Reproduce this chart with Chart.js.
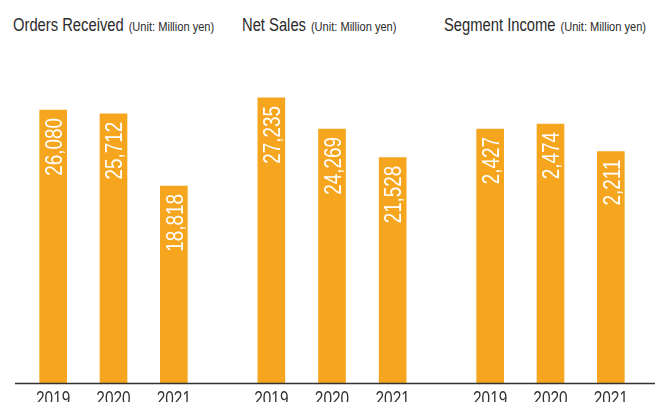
<!DOCTYPE html>
<html>
<head>
<meta charset="utf-8">
<script src="https://cdn.jsdelivr.net/npm/chart.js@4/dist/chart.umd.min.js"></script>
<style>
  body { margin: 0; background: #fff; }
  #wrap { position: relative; width: 655px; height: 402px; overflow: hidden; font-family: "Liberation Sans", Arial, sans-serif; }
  .box { position: absolute; top: 60px; height: 342px; }
  .title { position: absolute; top: 16px; line-height: 18px; white-space: nowrap; color: #2b2b2b; font-size: 18px; transform: scaleX(0.82); transform-origin: left top; }
  .title small { font-size: 13.5px; margin-left: 1px; }
</style>
</head>
<body>
<div id="wrap">
  <div class="title" style="left:13px">Orders Received <small>(Unit: Million yen)</small></div>
  <div class="title" style="left:242px">Net Sales <small>(Unit: Million yen)</small></div>
  <div class="title" style="left:444px">Segment Income <small>(Unit: Million yen)</small></div>
  <div class="box" style="left:0;width:218px"><canvas id="c1"></canvas></div>
  <div class="box" style="left:218px;width:219px"><canvas id="c2"></canvas></div>
  <div class="box" style="left:437px;width:218px"><canvas id="c3"></canvas></div>
</div>
<script>
"use strict";

const years = ["2019", "2020", "2021"];
const ordersReceived = [26080, 25712, 18818];
const netSales = [27235, 24269, 21528];
const segmentIncome = [2427, 2474, 2211];

const barColor = "#f6a51f";
const fontFamily = "'Liberation Sans', Arial, sans-serif";
// the original uses a condensed face, so text is squeezed horizontally
const squeeze = 0.82;

/**
 * Draws the rotated white values inside the bars
 */
const valueLabels = {
  id: "valueLabels",
  afterDatasetsDraw(chart) {
    const ctx = chart.ctx;
    const meta = chart.getDatasetMeta(0);
    const values = chart.data.datasets[0].data;
    const size = 23;
    ctx.save();
    ctx.fillStyle = "#ffffff";
    ctx.font = size + "px " + fontFamily;
    ctx.textAlign = "right";
    ctx.textBaseline = "alphabetic";
    meta.data.forEach((bar, i) => {
      ctx.save();
      ctx.translate(bar.x + 0.5, bar.y + 8);
      ctx.rotate(-Math.PI / 2);
      ctx.scale(squeeze, 1);
      ctx.fillText(values[i].toLocaleString("en-US"), 0, size * 0.358);
      ctx.restore();
    });
    ctx.restore();
  },
};

/**
 * Year labels under the bars plus the baseline running under all panels
 */
const baseline = {
  id: "baseline",
  afterDraw(chart, args, opts) {
    const ctx = chart.ctx;
    const xScale = chart.scales.x;
    const y = Math.round(chart.chartArea.bottom) + 0.5;
    ctx.save();
    ctx.strokeStyle = "#333333";
    ctx.lineWidth = 1.3;
    ctx.beginPath();
    ctx.moveTo(opts.start || 0, y);
    ctx.lineTo(chart.width, y);
    ctx.stroke();

    ctx.fillStyle = "#333333";
    ctx.font = "20px " + fontFamily;
    ctx.textAlign = "center";
    ctx.textBaseline = "alphabetic";
    chart.data.labels.forEach((label, i) => {
      ctx.save();
      ctx.translate(xScale.getPixelForValue(i), y + 21);
      ctx.scale(0.77, 1);
      ctx.fillText(label, 0, 0);
      ctx.restore();
    });
    ctx.restore();
  },
};

function buildPanel(canvas, values, max, lineStart) {
  return new Chart(canvas, {
    type: "bar",
    data: {
      labels: years,
      datasets: [{ data: values, backgroundColor: barColor, barThickness: 27 }],
    },
    options: {
      responsive: true,
      maintainAspectRatio: false,
      animation: false,
      layout: { padding: { left: 23, right: 14, top: 9, bottom: 0 } },
      plugins: {
        legend: { display: false },
        tooltip: { enabled: false },
        baseline: { start: lineStart },
      },
      scales: {
        x: {
          grid: { display: false, drawTicks: false },
          border: { display: false },
          ticks: { display: false },
          afterFit: (scale) => {
            scale.height = 19;
          },
        },
        y: { display: false, min: 0, max: max },
      },
    },
    plugins: [valueLabels, baseline],
  });
}

buildPanel(document.getElementById("c1"), ordersReceived, 30000, 15);
buildPanel(document.getElementById("c2"), netSales, 30000, 0);
buildPanel(document.getElementById("c3"), segmentIncome, 3000, 0);
</script>
</body>
</html>
